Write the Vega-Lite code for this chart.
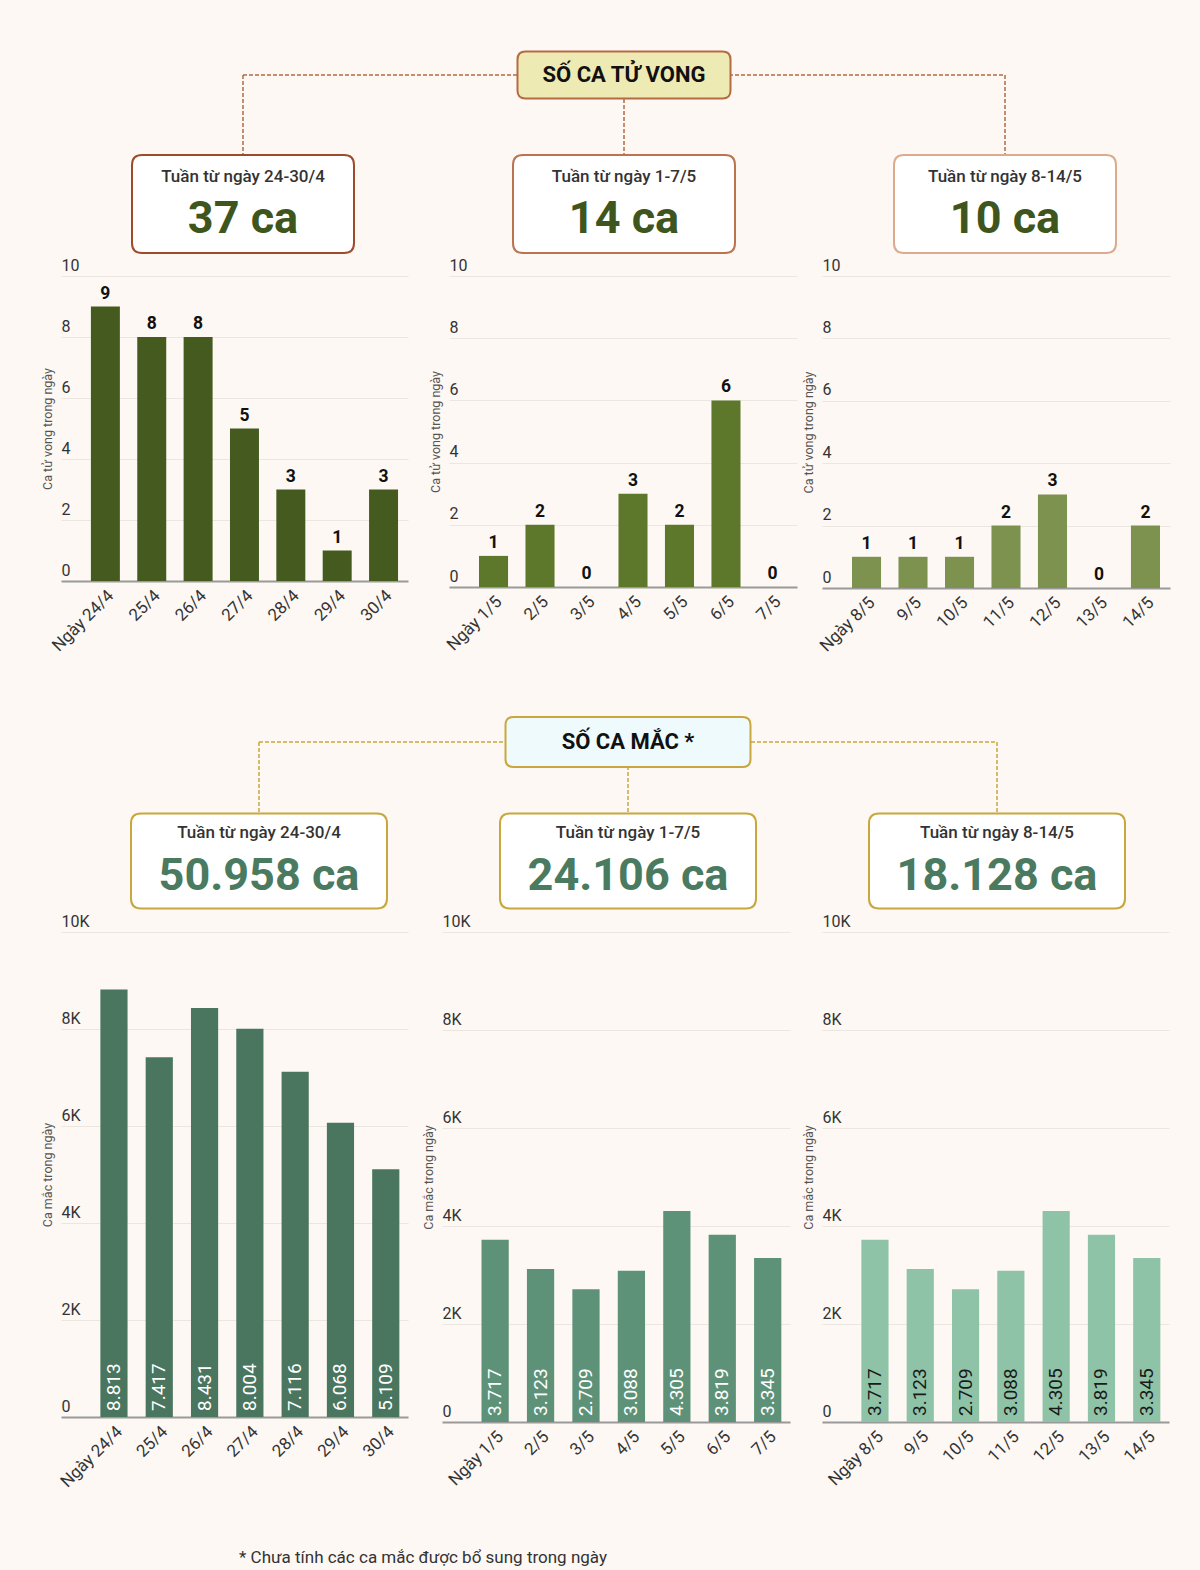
{
  "$schema": "https://vega.github.io/schema/vega-lite/v6.json",
  "padding": {"left": 41, "top": 0, "right": 40, "bottom": 70},
  "spacing": 0,
  "datasets": {
    "deaths": [
      {"tuan": "24-30/4", "ngay": "Ngày 24/4", "so_ca": 9},
      {"tuan": "24-30/4", "ngay": "25/4", "so_ca": 8},
      {"tuan": "24-30/4", "ngay": "26/4", "so_ca": 8},
      {"tuan": "24-30/4", "ngay": "27/4", "so_ca": 5},
      {"tuan": "24-30/4", "ngay": "28/4", "so_ca": 3},
      {"tuan": "24-30/4", "ngay": "29/4", "so_ca": 1},
      {"tuan": "24-30/4", "ngay": "30/4", "so_ca": 3},
      {"tuan": "1-7/5", "ngay": "Ngày 1/5", "so_ca": 1},
      {"tuan": "1-7/5", "ngay": "2/5", "so_ca": 2},
      {"tuan": "1-7/5", "ngay": "3/5", "so_ca": 0},
      {"tuan": "1-7/5", "ngay": "4/5", "so_ca": 3},
      {"tuan": "1-7/5", "ngay": "5/5", "so_ca": 2},
      {"tuan": "1-7/5", "ngay": "6/5", "so_ca": 6},
      {"tuan": "1-7/5", "ngay": "7/5", "so_ca": 0},
      {"tuan": "8-14/5", "ngay": "Ngày 8/5", "so_ca": 1},
      {"tuan": "8-14/5", "ngay": "9/5", "so_ca": 1},
      {"tuan": "8-14/5", "ngay": "10/5", "so_ca": 1},
      {"tuan": "8-14/5", "ngay": "11/5", "so_ca": 2},
      {"tuan": "8-14/5", "ngay": "12/5", "so_ca": 3},
      {"tuan": "8-14/5", "ngay": "13/5", "so_ca": 0},
      {"tuan": "8-14/5", "ngay": "14/5", "so_ca": 2}
    ],
    "cases": [
      {"tuan": "24-30/4", "ngay": "Ngày 24/4", "so_ca": 8813},
      {"tuan": "24-30/4", "ngay": "25/4", "so_ca": 7417},
      {"tuan": "24-30/4", "ngay": "26/4", "so_ca": 8431},
      {"tuan": "24-30/4", "ngay": "27/4", "so_ca": 8004},
      {"tuan": "24-30/4", "ngay": "28/4", "so_ca": 7116},
      {"tuan": "24-30/4", "ngay": "29/4", "so_ca": 6068},
      {"tuan": "24-30/4", "ngay": "30/4", "so_ca": 5109},
      {"tuan": "1-7/5", "ngay": "Ngày 1/5", "so_ca": 3717},
      {"tuan": "1-7/5", "ngay": "2/5", "so_ca": 3123},
      {"tuan": "1-7/5", "ngay": "3/5", "so_ca": 2709},
      {"tuan": "1-7/5", "ngay": "4/5", "so_ca": 3088},
      {"tuan": "1-7/5", "ngay": "5/5", "so_ca": 4305},
      {"tuan": "1-7/5", "ngay": "6/5", "so_ca": 3819},
      {"tuan": "1-7/5", "ngay": "7/5", "so_ca": 3345},
      {"tuan": "8-14/5", "ngay": "Ngày 8/5", "so_ca": 3717},
      {"tuan": "8-14/5", "ngay": "9/5", "so_ca": 3123},
      {"tuan": "8-14/5", "ngay": "10/5", "so_ca": 2709},
      {"tuan": "8-14/5", "ngay": "11/5", "so_ca": 3088},
      {"tuan": "8-14/5", "ngay": "12/5", "so_ca": 4305},
      {"tuan": "8-14/5", "ngay": "13/5", "so_ca": 3819},
      {"tuan": "8-14/5", "ngay": "14/5", "so_ca": 3345}
    ],
    "weeksDeaths": [
      {"tuan": "24-30/4", "tieu_de": "Tuần từ ngày 24-30/4", "tong": "37 ca"},
      {"tuan": "1-7/5", "tieu_de": "Tuần từ ngày 1-7/5", "tong": "14 ca"},
      {"tuan": "8-14/5", "tieu_de": "Tuần từ ngày 8-14/5", "tong": "10 ca"}
    ],
    "weeksCases": [
      {"tuan": "24-30/4", "tieu_de": "Tuần từ ngày 24-30/4", "tong": "50.958 ca"},
      {"tuan": "1-7/5", "tieu_de": "Tuần từ ngày 1-7/5", "tong": "24.106 ca"},
      {"tuan": "8-14/5", "tieu_de": "Tuần từ ngày 8-14/5", "tong": "18.128 ca"}
    ],
    "mainDeaths": [{"ten": "SỐ CA TỬ VONG"}],
    "mainCases": [{"ten": "SỐ CA MẮC *"}],
    "note": [{"ghi_chu": "* Chưa tính các ca mắc được bổ sung trong ngày"}]
  },
  "vconcat": [
    {
      "width": 1100,
      "height": 256,
      "layer": [
        {
          "data": {"name": "mainDeaths"},
          "mark": {"type": "rule", "color": "#b56b42", "strokeWidth": 1.5, "strokeDash": [4, 2]},
          "encoding": {
            "x": {"datum": "24-30/4", "type": "nominal", "scale": {"type": "point", "padding": 0, "domain": ["24-30/4", "1-7/5", "8-14/5"], "range": [182, 944]}, "axis": null},
            "x2": {"datum": "8-14/5"},
            "y": {"datum": 0, "type": "quantitative", "scale": {"domain": [0, 1], "range": [75, 204]}, "axis": null}
          }
        },
        {
          "data": {"name": "weeksDeaths"},
          "mark": {"type": "rule", "color": "#b56b42", "strokeWidth": 1.5, "strokeDash": [4, 2]},
          "encoding": {
            "x": {"field": "tuan", "type": "nominal", "scale": {"type": "point", "padding": 0, "domain": ["24-30/4", "1-7/5", "8-14/5"], "range": [182, 944]}, "axis": null},
            "y": {"datum": 0, "type": "quantitative", "scale": {"domain": [0, 1], "range": [75, 204]}, "axis": null},
            "y2": {"datum": 1}
          }
        },
        {
          "data": {"name": "mainDeaths"},
          "mark": {"type": "point", "filled": true, "fill": "#eeeab4", "stroke": "#b56b42", "strokeWidth": 2, "opacity": 1, "size": 45369,
            "shape": "M-0.9249,-0.2207L0.9249,-0.2207Q1,-0.2207 1,-0.1456L1,0.1456Q1,0.2207 0.9249,0.2207L-0.9249,0.2207Q-1,0.2207 -1,0.1456L-1,-0.1456Q-1,-0.2207 -0.9249,-0.2207Z"},
          "encoding": {
            "x": {"datum": "1-7/5", "type": "nominal"},
            "y": {"datum": 0, "type": "quantitative"}
          }
        },
        {
          "data": {"name": "mainDeaths"},
          "mark": {"type": "text", "fontSize": 22, "fontWeight": "bold", "color": "#111", "font": "Roboto", "baseline": "middle"},
          "encoding": {
            "x": {"datum": "1-7/5", "type": "nominal"},
            "y": {"datum": 0, "type": "quantitative"},
            "text": {"field": "ten"}
          }
        },
        {
          "data": {"name": "weeksDeaths"},
          "mark": {"type": "point", "filled": true, "fill": "#ffffff", "strokeWidth": 2, "opacity": 1, "size": 49284,
            "shape": "M-0.9099,-0.4414L0.9099,-0.4414Q1,-0.4414 1,-0.3513L1,0.3513Q1,0.4414 0.9099,0.4414L-0.9099,0.4414Q-1,0.4414 -1,0.3513L-1,-0.3513Q-1,-0.4414 -0.9099,-0.4414Z"},
          "encoding": {
            "x": {"field": "tuan", "type": "nominal"},
            "y": {"datum": 1, "type": "quantitative"},
            "stroke": {"field": "tuan", "type": "nominal", "scale": {"domain": ["24-30/4", "1-7/5", "8-14/5"], "range": ["#9e4b2c", "#bb7350", "#dcab8d"]}, "legend": null}
          }
        },
        {
          "data": {"name": "weeksDeaths"},
          "mark": {"type": "text", "fontSize": 17, "fontWeight": 500, "color": "#333", "font": "Roboto", "baseline": "middle", "dy": -27},
          "encoding": {
            "x": {"field": "tuan", "type": "nominal"},
            "y": {"datum": 1, "type": "quantitative"},
            "text": {"field": "tieu_de"}
          }
        },
        {
          "data": {"name": "weeksDeaths"},
          "mark": {"type": "text", "fontSize": 45, "fontWeight": "bold", "color": "#3e561d", "font": "Roboto", "baseline": "middle", "dy": 15},
          "encoding": {
            "x": {"field": "tuan", "type": "nominal"},
            "y": {"datum": 1, "type": "quantitative"},
            "text": {"field": "tong"}
          }
        }
      ]
    },
    {
      "spacing": 21,
      "hconcat": [
        {
          "width": 347, "height": 305,
          "data": {"name": "deaths"},
          "transform": [{"filter": "datum.tuan == '24-30/4'"}],
          "encoding": {
            "x": {"field": "ngay", "type": "nominal", "sort": null, "scale": {"paddingInner": 0.375, "paddingOuter": 0.43, "align": 0.75}, "axis": {"title": null}},
            "y": {"field": "so_ca", "type": "quantitative", "scale": {"domain": [0, 10]}, "axis": {"values": [0, 2, 4, 6, 8, 10], "title": "Ca tử vong trong ngày"}}
          },
          "layer": [
            {"mark": {"type": "bar", "color": "#445a1f"}},
            {"mark": {"type": "text", "baseline": "bottom", "dy": -4, "fontSize": 17.5, "fontWeight": "bold", "color": "#111"}, "encoding": {"text": {"field": "so_ca", "type": "quantitative"}}}
          ]
        },
        {
          "spacing": 5,
          "hconcat": [
            {
              "width": 348, "height": 311,
              "data": {"name": "deaths"},
              "transform": [{"filter": "datum.tuan == '1-7/5'"}],
              "encoding": {
                "x": {"field": "ngay", "type": "nominal", "sort": null, "scale": {"paddingInner": 0.375, "paddingOuter": 0.43, "align": 0.75}, "axis": {"title": null}},
                "y": {"field": "so_ca", "type": "quantitative", "scale": {"domain": [0, 10]}, "axis": {"values": [0, 2, 4, 6, 8, 10], "title": "Ca tử vong trong ngày"}}
              },
              "layer": [
                {"mark": {"type": "bar", "color": "#5d772b"}},
                {"mark": {"type": "text", "baseline": "bottom", "dy": -4, "fontSize": 17.5, "fontWeight": "bold", "color": "#111"}, "encoding": {"text": {"field": "so_ca", "type": "quantitative"}}}
              ]
            },
            {
              "width": 348, "height": 312,
              "data": {"name": "deaths"},
              "transform": [{"filter": "datum.tuan == '8-14/5'"}],
              "encoding": {
                "x": {"field": "ngay", "type": "nominal", "sort": null, "scale": {"paddingInner": 0.375, "paddingOuter": 0.43, "align": 0.75}, "axis": {"title": null}},
                "y": {"field": "so_ca", "type": "quantitative", "scale": {"domain": [0, 10]}, "axis": {"values": [0, 2, 4, 6, 8, 10], "title": "Ca tử vong trong ngày"}}
              },
              "layer": [
                {"mark": {"type": "bar", "color": "#7e924f"}},
                {"mark": {"type": "text", "baseline": "bottom", "dy": -4, "fontSize": 17.5, "fontWeight": "bold", "color": "#111"}, "encoding": {"text": {"field": "so_ca", "type": "quantitative"}}}
              ]
            }
          ]
        }
      ]
    },
    {
      "width": 1100,
      "height": 250,
      "layer": [
        {
          "data": {"name": "mainCases"},
          "mark": {"type": "rule", "color": "#c8a73e", "strokeWidth": 1.5, "strokeDash": [4, 2]},
          "encoding": {
            "x": {"datum": "24-30/4", "type": "nominal", "scale": {"type": "point", "padding": 0, "domain": ["24-30/4", "1-7/5", "8-14/5"], "range": [198, 936]}, "axis": null},
            "x2": {"datum": "8-14/5"},
            "y": {"datum": 0, "type": "quantitative", "scale": {"domain": [0, 1], "range": [87, 206]}, "axis": null}
          }
        },
        {
          "data": {"name": "weeksCases"},
          "mark": {"type": "rule", "color": "#c8a73e", "strokeWidth": 1.5, "strokeDash": [4, 2]},
          "encoding": {
            "x": {"field": "tuan", "type": "nominal", "scale": {"type": "point", "padding": 0, "domain": ["24-30/4", "1-7/5", "8-14/5"], "range": [198, 936]}, "axis": null},
            "y": {"datum": 0, "type": "quantitative", "scale": {"domain": [0, 1], "range": [87, 206]}, "axis": null},
            "y2": {"datum": 1}
          }
        },
        {
          "data": {"name": "mainCases"},
          "mark": {"type": "point", "filled": true, "fill": "#eefafb", "stroke": "#c8a73e", "strokeWidth": 2, "opacity": 1, "size": 60025,
            "shape": "M-0.9347,-0.2041L0.9347,-0.2041Q1,-0.2041 1,-0.1388L1,0.1388Q1,0.2041 0.9347,0.2041L-0.9347,0.2041Q-1,0.2041 -1,0.1388L-1,-0.1388Q-1,-0.2041 -0.9347,-0.2041Z"},
          "encoding": {
            "x": {"datum": "1-7/5", "type": "nominal"},
            "y": {"datum": 0, "type": "quantitative"}
          }
        },
        {
          "data": {"name": "mainCases"},
          "mark": {"type": "text", "fontSize": 22, "fontWeight": "bold", "color": "#111", "font": "Roboto", "baseline": "middle"},
          "encoding": {
            "x": {"datum": "1-7/5", "type": "nominal"},
            "y": {"datum": 0, "type": "quantitative"},
            "text": {"field": "ten"}
          }
        },
        {
          "data": {"name": "weeksCases"},
          "mark": {"type": "point", "filled": true, "fill": "#ffffff", "stroke": "#c8a73e", "strokeWidth": 2, "opacity": 1, "size": 65536,
            "shape": "M-0.9219,-0.3711L0.9219,-0.3711Q1,-0.3711 1,-0.293L1,0.293Q1,0.3711 0.9219,0.3711L-0.9219,0.3711Q-1,0.3711 -1,0.293L-1,-0.293Q-1,-0.3711 -0.9219,-0.3711Z"},
          "encoding": {
            "x": {"field": "tuan", "type": "nominal"},
            "y": {"datum": 1, "type": "quantitative"}
          }
        },
        {
          "data": {"name": "weeksCases"},
          "mark": {"type": "text", "fontSize": 17, "fontWeight": 500, "color": "#333", "font": "Roboto", "baseline": "middle", "dy": -28},
          "encoding": {
            "x": {"field": "tuan", "type": "nominal"},
            "y": {"datum": 1, "type": "quantitative"},
            "text": {"field": "tieu_de"}
          }
        },
        {
          "data": {"name": "weeksCases"},
          "mark": {"type": "text", "fontSize": 45, "fontWeight": "bold", "color": "#4a7a60", "font": "Roboto", "baseline": "middle", "dy": 15},
          "encoding": {
            "x": {"field": "tuan", "type": "nominal"},
            "y": {"datum": 1, "type": "quantitative"},
            "text": {"field": "tong"}
          }
        }
      ]
    },
    {
      "spacing": 14,
      "hconcat": [
        {
          "width": 347, "height": 485,
          "data": {"name": "cases"},
          "transform": [{"filter": "datum.tuan == '24-30/4'"}],
          "encoding": {
            "x": {"field": "ngay", "type": "nominal", "sort": null, "scale": {"paddingInner": 0.4, "paddingOuter": 0.53, "align": 0.82}, "axis": {"title": null}},
            "y": {"field": "so_ca", "type": "quantitative", "scale": {"domain": [0, 10000]}, "axis": {"values": [0, 2000, 4000, 6000, 8000, 10000], "labelExpr": "datum.value == 0 ? '0' : (datum.value / 1000) + 'K'", "title": "Ca mắc trong ngày"}}
          },
          "layer": [
            {"mark": {"type": "bar", "color": "#4a765f"}},
            {"mark": {"type": "text", "angle": 270, "align": "left", "baseline": "middle", "dx": 6, "fontSize": 19, "color": "#ffffff"}, "encoding": {"y": {"datum": 0, "type": "quantitative"}, "text": {"field": "so_ca", "type": "quantitative", "format": ",d"}}}
          ]
        },
        {
          "spacing": 12,
          "hconcat": [
            {
              "width": 348, "height": 490,
              "data": {"name": "cases"},
              "transform": [{"filter": "datum.tuan == '1-7/5'"}],
              "encoding": {
                "x": {"field": "ngay", "type": "nominal", "sort": null, "scale": {"paddingInner": 0.4, "paddingOuter": 0.53, "align": 0.82}, "axis": {"title": null}},
                "y": {"field": "so_ca", "type": "quantitative", "scale": {"domain": [0, 10000]}, "axis": {"values": [0, 2000, 4000, 6000, 8000, 10000], "labelExpr": "datum.value == 0 ? '0' : (datum.value / 1000) + 'K'", "title": "Ca mắc trong ngày"}}
              },
              "layer": [
                {"mark": {"type": "bar", "color": "#5e9278"}},
                {"mark": {"type": "text", "angle": 270, "align": "left", "baseline": "middle", "dx": 6, "fontSize": 19, "color": "#ffffff"}, "encoding": {"y": {"datum": 0, "type": "quantitative"}, "text": {"field": "so_ca", "type": "quantitative", "format": ",d"}}}
              ]
            },
            {
              "width": 347, "height": 490,
              "data": {"name": "cases"},
              "transform": [{"filter": "datum.tuan == '8-14/5'"}],
              "encoding": {
                "x": {"field": "ngay", "type": "nominal", "sort": null, "scale": {"paddingInner": 0.4, "paddingOuter": 0.53, "align": 0.82}, "axis": {"title": null}},
                "y": {"field": "so_ca", "type": "quantitative", "scale": {"domain": [0, 10000]}, "axis": {"values": [0, 2000, 4000, 6000, 8000, 10000], "labelExpr": "datum.value == 0 ? '0' : (datum.value / 1000) + 'K'", "title": "Ca mắc trong ngày"}}
              },
              "layer": [
                {"mark": {"type": "bar", "color": "#8fc3a7"}},
                {"mark": {"type": "text", "angle": 270, "align": "left", "baseline": "middle", "dx": 6, "fontSize": 19, "color": "#1a1a1a"}, "encoding": {"y": {"datum": 0, "type": "quantitative"}, "text": {"field": "so_ca", "type": "quantitative", "format": ",d"}}}
              ]
            }
          ]
        }
      ]
    },
    {
      "width": 724,
      "height": 20,
      "data": {"name": "note"},
      "mark": {"type": "text", "fontSize": 17, "color": "#333", "font": "Roboto", "baseline": "middle", "dy": 58},
      "encoding": {"text": {"field": "ghi_chu"}}
    }
  ],
  "config": {
    "background": "#fdf8f3",
    "font": "Roboto",
    "view": {"stroke": null},
    "locale": {"number": {"decimal": ",", "thousands": ".", "grouping": [3], "currency": ["", " ₫"]}},
    "axisY": {"grid": true, "gridColor": "#ebe6df", "gridWidth": 1, "domain": false, "ticks": false, "labelAlign": "left", "labelBaseline": "bottom", "labelPadding": 0, "labelOffset": -3, "labelFontSize": 16, "labelColor": "#333", "labelFont": "Roboto", "titleFont": "Roboto", "titleFontSize": 12.5, "titleFontWeight": "normal", "titleColor": "#555", "titlePadding": 7},
    "axisX": {"grid": false, "domainColor": "#9a9a9a", "domainWidth": 2, "ticks": false, "labelAngle": -45, "labelFontSize": 17, "labelColor": "#333", "labelFont": "Roboto", "labelPadding": 6}
  }
}
